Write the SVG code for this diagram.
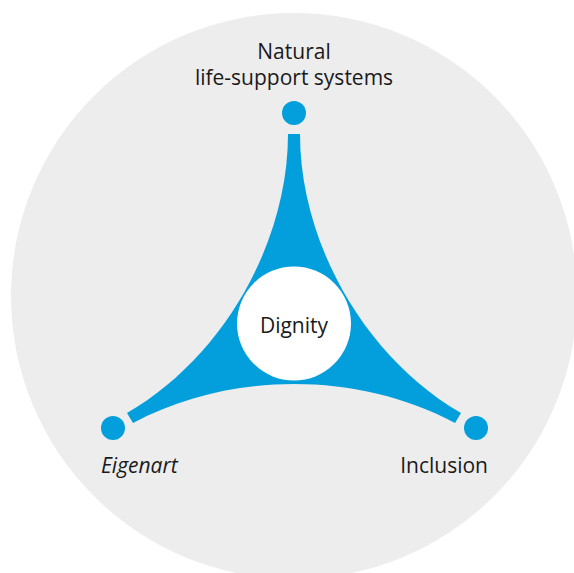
<svg xmlns="http://www.w3.org/2000/svg" width="574" height="573" viewBox="0 0 574 573">
  <style>
    .lbl { font-family: "Open Sans", "Noto Sans", "Liberation Sans", sans-serif; font-size: 21px; fill: #1a1a1a; }
    .dot { fill: #029fdc; }
  </style>
  <rect x="0" y="0" width="574" height="573" fill="#ffffff"/>
  <circle id="background" cx="294" cy="296" r="283" fill="#ededed"/>
  <g id="connectors">
    <path fill="#029fdc" d="M288,134 L300,134 C300,244 366,358 461,413 L455,423 C358,371 230,371 133,423 L127,413 C222,358 288,244 288,134 Z"/>
  </g>
  <g id="dignity">
    <circle cx="294" cy="323.5" r="57" fill="#ffffff"/>
    <text class="lbl" x="294" y="333" text-anchor="middle" font-size="22">Dignity</text>
  </g>
  <g id="natural">
    <circle class="dot" cx="294" cy="113" r="12"/>
    <text class="lbl" x="294" y="59" text-anchor="middle">Natural</text>
    <text class="lbl" x="294" y="85" text-anchor="middle">life-support systems</text>
  </g>
  <g id="eigenart">
    <circle class="dot" cx="113" cy="428" r="12"/>
    <text class="lbl" x="101" y="473" font-style="italic">Eigenart</text>
  </g>
  <g id="inclusion">
    <circle class="dot" cx="476" cy="428" r="12"/>
    <text class="lbl" x="488" y="473" text-anchor="end">Inclusion</text>
  </g>
</svg>
